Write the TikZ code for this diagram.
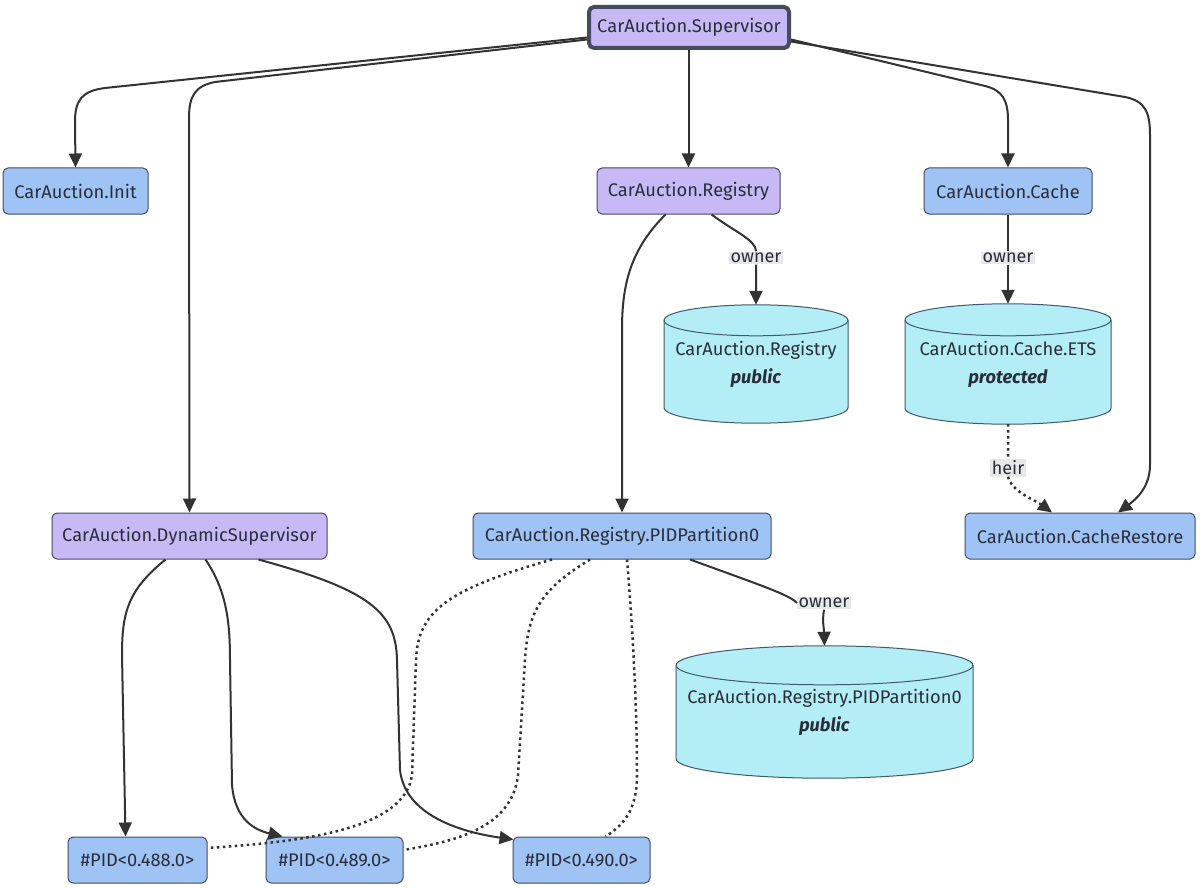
\documentclass[tikz,border=0pt]{standalone}
\usepackage{fontspec}
\setmainfont{Fira Sans}
\usetikzlibrary{arrows.meta,calc,backgrounds}
\definecolor{purp}{HTML}{C7B9F6}
\definecolor{blu}{HTML}{9EC3F4}
\definecolor{cyan}{HTML}{B3EEF6}
\definecolor{nodeedge}{HTML}{464B5E}
\definecolor{cyledge}{HTML}{3F5A68}
\definecolor{txt}{HTML}{2A2E3A}
\definecolor{lc}{HTML}{333333}
\definecolor{lblbg}{HTML}{E8E8E8}
\tikzset{
  box/.style={draw=nodeedge, line width=1pt, rounded corners=5pt, minimum height=46pt, inner sep=0pt, font=\fontsize{18.3}{22}\selectfont, text=txt},
  pbox/.style={box, fill=purp},
  bbox/.style={box, fill=blu},
  cyltext/.style={inner sep=0pt, font=\fontsize{18.3}{28}\selectfont, align=center, text=txt},
  cylstyle/.style={draw=cyledge, fill=cyan, line width=1pt},
  tip/.style={-{Triangle[length=14pt,width=13pt]}},
  conn/.style={draw=lc, line width=2pt, tip},
  dotconn/.style={draw=lc, line width=2.5pt, dash pattern=on 2.5pt off 3.5pt},
  lbl/.style={fill=lblbg, inner sep=1.5pt, font=\fontsize{18}{21}\selectfont, text=txt},
}
\newcommand\mycyl[3]{%
  \path let \p1=(#1.north), \p2=(#1.south) in
    [cylstyle] (\x1-#2pt,\y1-#3pt) -- (\x1-#2pt,\y2+#3pt)
      arc[start angle=180,end angle=360,x radius=#2pt,y radius=#3pt]
      -- (\x1+#2pt,\y1-#3pt)
      arc[start angle=0,end angle=180,x radius=#2pt,y radius=#3pt] -- cycle;
  \path let \p1=(#1.north) in
    [draw=cyledge, line width=1pt] (\x1-#2pt,\y1-#3pt)
      arc[start angle=180,end angle=360,x radius=#2pt,y radius=#3pt];
}
\begin{document}
\begin{tikzpicture}[x=1pt,y=1pt]
\useasboundingbox (0,0) rectangle (1200,-888);
% nodes
\node[pbox, line width=4pt, minimum width=200pt, minimum height=41pt] (sup) at (689,-27.5) {CarAuction.Supervisor};
\node[bbox, minimum width=145pt] (init) at (75.5,-191) {CarAuction.Init};
\node[pbox, minimum width=183pt] (reg) at (688.5,-191) {CarAuction.Registry};
\node[bbox, minimum width=168pt] (cache) at (1008,-191) {CarAuction.Cache};
\node[pbox, minimum width=275pt] (dyn) at (189.5,-536) {CarAuction.DynamicSupervisor};
\node[bbox, minimum width=298pt] (part) at (622,-536) {CarAuction.Registry.PIDPartition0};
\node[bbox, minimum width=230pt] (restore) at (1080,-536) {CarAuction.CacheRestore};
\node[bbox, minimum width=139pt] (p488) at (137.5,-860) {\#PID<0.488.0>};
\node[bbox, minimum width=137pt] (p489) at (334.5,-860) {\#PID<0.489.0>};
\node[bbox, minimum width=137pt] (p490) at (581.5,-860) {\#PID<0.490.0>};
\node[cyltext, minimum width=184pt, minimum height=118pt] (creg) at (756,-364) {CarAuction.Registry\\\textbf{\textit{public}}};
\node[cyltext, minimum width=206pt, minimum height=120pt] (cets) at (1008,-364) {CarAuction.Cache.ETS\\\textbf{\textit{protected}}};
\node[cyltext, minimum width=297pt, minimum height=132pt] (cpid) at (824.5,-712) {CarAuction.Registry.PIDPartition0\\\textbf{\textit{public}}};
\begin{pgfonlayer}{background}
\fill[white] (0,0) rectangle (1200,-888);
\mycyl{creg}{92}{15.5}
\mycyl{cets}{103}{16}
\mycyl{cpid}{148.5}{19.5}
\end{pgfonlayer}
% labels
\node[lbl] (l1) at (756,-258) {owner};
\node[lbl] (l2) at (1008,-258) {owner};
\node[lbl] (l3) at (1008,-468) {heir};
\node[lbl] (l4) at (824,-603) {owner};
% edges from supervisor
\draw[conn] ([yshift=-10pt]sup.west) -- (105,-88) .. controls (82,-91) and (75,-100) .. (75,-122) -- (init.north);
\draw[conn] ([yshift=-12pt]sup.west) -- (215,-82) .. controls (195,-86) and (189,-96) .. (189,-118) -- (dyn.north);
\draw[conn] (reg.north |- sup.south) -- (reg.north);
\draw[conn] ([yshift=-12pt]sup.east) -- (985,-86) .. controls (1002,-90) and (1008,-100) .. (1008,-120) -- (cache.north);
\draw[conn] ([yshift=-14pt]sup.east) -- (1125,-97) .. controls (1145,-101) and (1150,-112) .. (1150,-135) -- (1150,-465) .. controls (1150,-488) and (1135,-500) .. ([xshift=38pt]restore.north);
% registry
\draw[conn] ([xshift=23pt]reg.south) .. controls (735,-232) and (756,-240) .. (l1.north) (l1.south) -- (creg.north);
\draw[conn] ([xshift=-23pt]reg.south) .. controls (630,-250) and (622,-285) .. (622,-330) -- (part.north);
% cache
\draw[conn] (cache.south) -- (l2.north) (l2.south) -- (cets.north);
\draw[dotconn, tip] (cets.south) -- (l3.north) (l3.south) .. controls (1012,-492) and (1035,-500) .. ([xshift=-28pt]restore.north);
% dynamic supervisor
\draw[conn] ([xshift=-24pt]dyn.south) .. controls (128,-590) and (122,-612) .. (122,-655) -- ([xshift=-12pt]p488.north);
\draw[conn] ([xshift=16pt]dyn.south) .. controls (226,-590) and (230,-620) .. (230,-660) -- (232,-785) .. controls (235,-820) and (255,-830) .. ([xshift=-52pt]p489.north);
\draw[conn] ([xshift=69pt]dyn.south) .. controls (370,-590) and (396,-612) .. (397,-660) -- (400,-770) .. controls (405,-815) and (460,-832) .. ([xshift=-68pt,yshift=-3pt]p490.north);
% partition
\draw[conn] ([xshift=68pt]part.south) .. controls (760,-585) and (790,-595) .. (l4.west) (l4.south) .. controls (822,-622) and (824,-628) .. (cpid.north);
\draw[dotconn] ([xshift=-70pt]part.south) .. controls (445,-590) and (418,-612) .. (416,-660) -- (412,-775) .. controls (405,-830) and (300,-842) .. ([yshift=12pt]p488.east);
\draw[dotconn] ([xshift=-32pt]part.south) .. controls (540,-590) and (528,-612) .. (525,-660) -- (518,-775) .. controls (512,-830) and (450,-842) .. ([yshift=10pt]p489.east);
\draw[dotconn] ([xshift=5pt]part.south) .. controls (632,-620) and (637,-700) .. (637,-775) .. controls (637,-812) and (622,-826) .. ([xshift=24pt]p490.north);
\end{tikzpicture}
\end{document}
